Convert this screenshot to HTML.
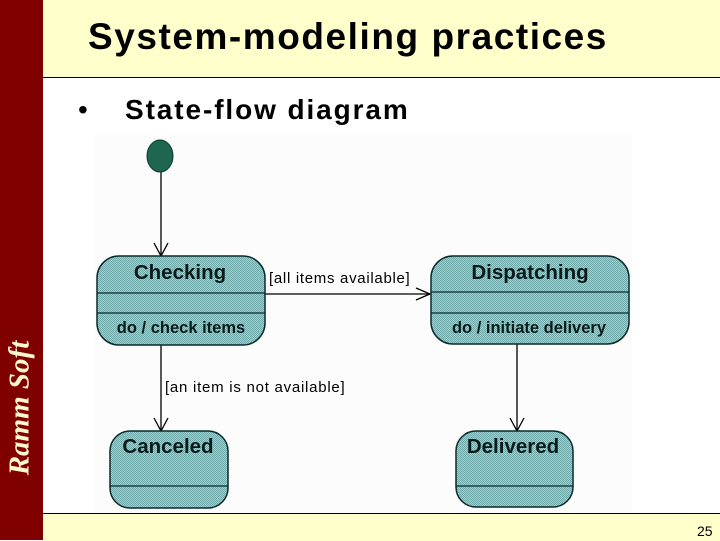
<!DOCTYPE html>
<html><head><style>
body{margin:0;width:720px;height:540px;overflow:hidden;position:relative;background:#fff;font-family:"Liberation Sans",sans-serif}
.side{position:absolute;left:0;top:0;width:43px;height:540px;background:#800000}
.top{position:absolute;left:43px;top:0;width:677px;height:77px;background:#ffffcc;border-bottom:1px solid #000}
.bot{position:absolute;left:43px;top:513px;width:677px;height:27px;background:#ffffcc;border-top:1px solid #000}
</style></head><body>
<div class="side"></div>
<div class="top"></div>
<div class="bot"></div>
<div style="position:absolute;left:88px;top:16px;font-size:37px;font-weight:bold;color:#000;letter-spacing:1.55px;white-space:nowrap">System-modeling practices</div>
<div style="position:absolute;left:78px;top:94px;font-size:28px">•</div>
<div style="position:absolute;left:125px;top:94px;font-size:28px;font-weight:bold;letter-spacing:1.9px;white-space:nowrap">State-flow diagram</div>
<div style="position:absolute;left:697px;top:523px;font-size:14px">25</div>
<div style="position:absolute;left:20px;top:408px;transform:translate(-50%,-50%) rotate(-90deg);color:#fff8d0;font-family:'Liberation Serif',serif;font-style:italic;font-weight:bold;font-size:29px;white-space:nowrap">Ramm Soft</div>
<svg style="position:absolute;left:0;top:0" width="720" height="540">
<defs><pattern id="p" width="2" height="2" patternUnits="userSpaceOnUse"><rect width="2" height="2" fill="#9fd0d0"/><rect width="1" height="1" fill="#6fa8a8"/><rect x="1" y="1" width="1" height="1" fill="#6fa8a8"/></pattern></defs>
<rect x="95" y="135" width="537" height="377" fill="#fcfcfc"/>
<g stroke="#000" stroke-width="1.3" fill="none">
<line x1="161" y1="170" x2="161" y2="256"/><polyline points="154,243 161,256 168,243"/>
<line x1="265" y1="294" x2="430" y2="294"/><polyline points="416,288 430,294 416,300"/>
<line x1="161" y1="345" x2="161" y2="431"/><polyline points="154,418 161,431 168,418"/>
<line x1="517" y1="344" x2="517" y2="431"/><polyline points="510,418 517,431 524,418"/>
</g>
<ellipse cx="160" cy="156" rx="13" ry="16" fill="#1e6650" stroke="#0a3a2a"/>
<g stroke="#0a2a2a" stroke-width="1.5" fill="url(#p)">
<rect x="97" y="256" width="168" height="89" rx="22"/>
<rect x="431" y="256" width="198" height="88" rx="22"/>
<rect x="110" y="431" width="118" height="77" rx="20"/>
<rect x="456" y="431" width="117" height="76" rx="20"/>
</g>
<g stroke="#0a2a2a" stroke-width="1.3">
<line x1="97" y1="293" x2="265" y2="293"/><line x1="97" y1="313" x2="265" y2="313"/>
<line x1="431" y1="292" x2="629" y2="292"/><line x1="431" y1="313" x2="629" y2="313"/>
<line x1="110" y1="486" x2="228" y2="486"/><line x1="456" y1="486" x2="573" y2="486"/>
</g>
<g font-family="Liberation Sans, sans-serif" font-weight="bold" fill="#0a1a1a" text-anchor="middle">
<text x="180" y="279" font-size="20.5">Checking</text>
<text x="530" y="279" font-size="20.5">Dispatching</text>
<text x="168" y="453" font-size="20.5">Canceled</text>
<text x="513" y="453" font-size="20.5">Delivered</text>
<text x="181" y="333" font-size="16.5">do / check items</text>
<text x="529" y="333" font-size="16.5">do / initiate delivery</text>
</g>
<g font-family="Liberation Sans, sans-serif" font-size="15" fill="#000">
<text x="269" y="283" letter-spacing="0.7">[all items available]</text>
<text x="165" y="392" letter-spacing="0.75">[an item is not available]</text>
</g>
</svg>
</body></html>
